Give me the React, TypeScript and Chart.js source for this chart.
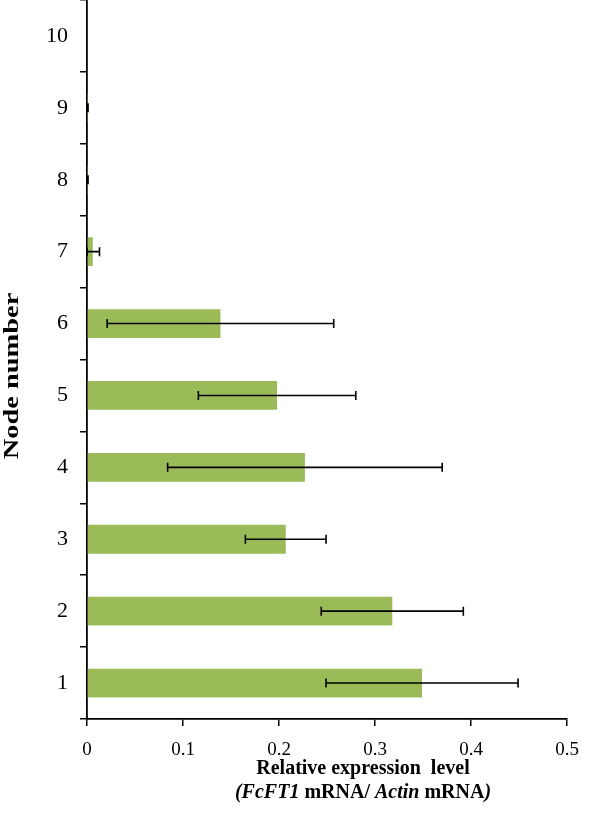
import React, { useEffect, useRef } from "react";
import { Chart, registerables } from "chart.js";

Chart.register(...registerables);

const nodeLabels = ["1", "2", "3", "4", "5", "6", "7", "8", "9", "10"];
const expressionValues = [0.349, 0.318, 0.207, 0.227, 0.198, 0.139, 0.006, 0.0005, 0.0005, 0];
const expressionErrors = [0.1, 0.074, 0.042, 0.143, 0.082, 0.118, 0.007, 0.0006, 0.0006, 0];
const xTickValues = [0, 0.1, 0.2, 0.3, 0.4, 0.5];

const SERIF = "'Liberation Serif', 'Times New Roman', serif";

const errorBarPlugin = {
  id: "errorBars",
  afterDatasetsDraw(chart: any) {
    const { ctx, scales } = chart;
    const xs = scales.x;
    const ys = scales.y;
    ctx.save();
    ctx.strokeStyle = "#000";
    ctx.lineWidth = 1.6;
    expressionValues.forEach((v, i) => {
      const e = expressionErrors[i];
      if (!e) return;
      const y = ys.getPixelForValue(i);
      const lo = xs.getPixelForValue(Math.max(0, v - e));
      const hi = xs.getPixelForValue(v + e);
      ctx.beginPath();
      ctx.moveTo(lo, y);
      ctx.lineTo(hi, y);
      ctx.moveTo(lo, y - 4.5);
      ctx.lineTo(lo, y + 4.5);
      ctx.moveTo(hi, y - 4.5);
      ctx.lineTo(hi, y + 4.5);
      ctx.stroke();
    });
    ctx.restore();
  },
};

const titlesPlugin = {
  id: "titles",
  afterDraw(chart: any) {
    const { ctx } = chart;
    ctx.save();
    ctx.fillStyle = "#000";
    ctx.textBaseline = "middle";
    const size = 20;

    // y-axis title (stretched along its length like the reference)
    ctx.save();
    ctx.translate(13, 376);
    ctx.rotate(-Math.PI / 2);
    ctx.scale(1.42, 1);
    ctx.font = `bold ${size}px ${SERIF}`;
    ctx.textAlign = "center";
    ctx.fillText("Node number", 0, 0);
    ctx.restore();

    // x-axis title
    const cx = 363;
    ctx.font = `bold ${size}px ${SERIF}`;
    ctx.textAlign = "center";
    ctx.fillText("Relative expression  level", cx, 769);
    const segs: [string, boolean][] = [
      ["(", true],
      ["FcFT1", true],
      [" mRNA/ ", false],
      ["Actin", true],
      [" mRNA", false],
      [")", true],
    ];
    ctx.textAlign = "left";
    let total = 0;
    const widths = segs.map(([t, it]) => {
      ctx.font = `${it ? "italic " : ""}bold ${size}px ${SERIF}`;
      const w = ctx.measureText(t).width;
      total += w;
      return w;
    });
    let x = cx - total / 2;
    segs.forEach(([t, it], i) => {
      ctx.font = `${it ? "italic " : ""}bold ${size}px ${SERIF}`;
      ctx.fillText(t, x, 793);
      x += widths[i];
    });
    ctx.restore();
  },
};

export default function App() {
  const canvasRef = useRef<HTMLCanvasElement | null>(null);

  useEffect(() => {
    document.body.style.margin = "0";
    const canvas = canvasRef.current;
    if (!canvas) return;
    const chart = new Chart(canvas, {
      type: "bar",
      data: {
        labels: nodeLabels,
        datasets: [
          {
            data: expressionValues,
            backgroundColor: "#9BBB59",
            borderWidth: 0,
            barPercentage: 0.4,
            categoryPercentage: 1,
          },
        ],
      },
      options: {
        indexAxis: "y",
        animation: false,
        responsive: true,
        maintainAspectRatio: false,
        layout: { padding: { left: 0, right: 33, top: 0, bottom: 0 } },
        plugins: {
          legend: { display: false },
          tooltip: { enabled: false },
        },
        scales: {
          x: {
            type: "linear",
            min: 0,
            max: 0.5,
            afterBuildTicks: (scale: any) => {
              scale.ticks = xTickValues.map((v) => ({ value: v }));
            },
            afterFit: (scale: any) => {
              scale.height = 113;
            },
            ticks: {
              color: "#000",
              font: { family: SERIF, size: 19 },
              padding: 13,
              maxRotation: 0,
              callback: (v: any) => String(Math.round(Number(v) * 10) / 10),
            },
            grid: {
              drawOnChartArea: false,
              drawTicks: true,
              tickLength: 7,
              color: "#000",
              lineWidth: 1.5,
            },
            border: { color: "#000", width: 1.8 },
          },
          y: {
            type: "category",
            reverse: true,
            offset: true,
            afterFit: (scale: any) => {
              scale.width = 87;
              scale.paddingTop = 0;
              scale.paddingBottom = 0;
            },
            ticks: {
              color: "#000",
              font: { family: SERIF, size: 22 },
              padding: 12,
            },
            grid: {
              offset: true,
              drawOnChartArea: false,
              drawTicks: true,
              tickLength: 7,
              color: "#000",
              lineWidth: 1.5,
            },
            border: { color: "#000", width: 1.8 },
          },
        },
      },
      plugins: [errorBarPlugin, titlesPlugin],
    } as any);
    return () => chart.destroy();
  }, []);

  return (
    <div style={{ width: 600, height: 832, position: "relative", background: "#fff" }}>
      <canvas ref={canvasRef} />
    </div>
  );
}
